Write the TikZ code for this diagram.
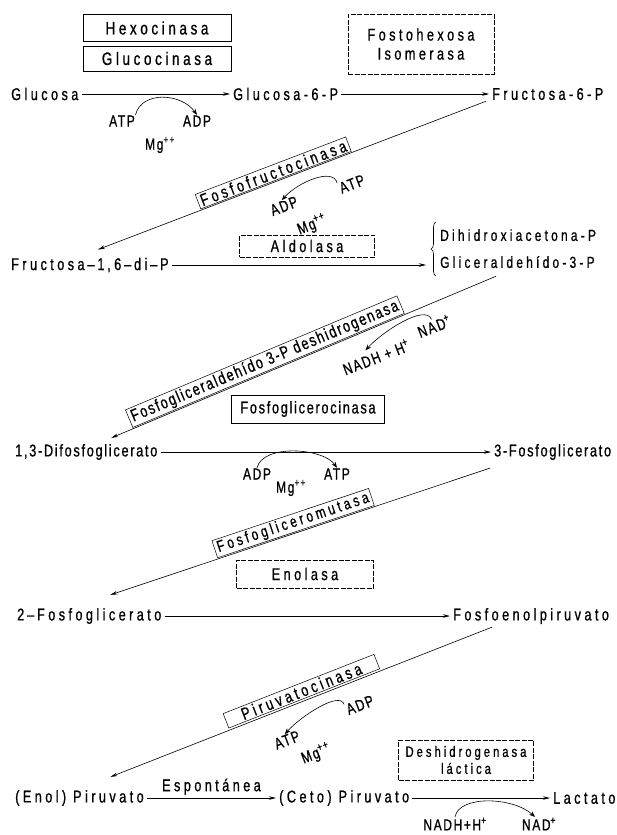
\documentclass[tikz,border=0pt]{standalone}
\usepackage{fontspec}
\setmainfont{Liberation Sans}[FakeStretch=0.75, LetterSpace=20, FakeBold=0.8]
\newfontfamily\apretada{Liberation Sans}[FakeStretch=0.75, LetterSpace=10, FakeBold=0.8]
\usetikzlibrary{arrows.meta,positioning,decorations.pathreplacing}

\newcommand{\letragrande}{\fontsize{17}{19}\selectfont}
\newcommand{\letramedia}{\fontsize{16}{18}\selectfont}
\newcommand{\letrachica}{\fontsize{15}{17}\selectfont}

\tikzset{
  met/.style={inner xsep=3pt, inner ysep=1pt, font=\letragrande},
  cof/.style={inner sep=0.5pt, font=\letramedia\apretada},
  enz/.style={draw, line width=0.5pt, inner xsep=3pt, inner ysep=1.5pt, font=\letragrande},
  enzt/.style={enz, line width=0.4pt, dash pattern=on 5pt off 1.5pt},
  rxn/.style={-{Stealth[length=7pt,width=3.5pt]}, line width=0.6pt},
  cyc/.style={-{Stealth[length=6pt,width=4.5pt]}, line width=0.6pt},
  llave/.style={decorate, decoration={brace, amplitude=5pt}, line width=0.6pt},
}

\begin{document}
\begin{tikzpicture}[x=1pt, y=-1pt]
    \useasboundingbox (0,0) rectangle (616,835);

    % Hexocinasa y fosfohexosa isomerasa
    \node[enz, minimum width=148pt, minimum height=27pt, font=\fontsize{18}{20}\selectfont] (hexo) at (157,28) {Hexocinasa};
    \node[enz, minimum width=148pt, minimum height=25pt, font=\fontsize{18}{20}\selectfont, below=4pt of hexo] (gluco) {Glucocinasa};
    \node[enzt, minimum width=146pt, minimum height=60pt, align=center, font=\letragrande] (fphi) at (421,44) {Fostohexosa\\Isomerasa};

    \node[met, anchor=west] (glu) at (8,94) {Glucosa};
    \node[met, anchor=west] (g6p) at (230,94) {Glucosa-6-P};
    \node[met, anchor=west] (f6p) at (489,94) {Fructosa-6-P};
    \draw[rxn] (glu) -- (g6p);
    \draw[rxn] (g6p) -- (f6p);

    \node[cof] (atp1) at (122,121) {ATP};
    \node[cof] (adp1) at (197,121) {ADP};
    \node[cof] (mg1) at (160,145) {Mg\textsuperscript{++}};
    \draw[cyc] (atp1.north east) .. controls +(6,-24) and +(-16,-22) .. (adp1.north);

    % Fosfofructocinasa
    \node[met, anchor=west] (f16p) at (8,265) {Fructosa\,–\,1\,,6\,–\,di\,–\,P};
    \draw[rxn] ([xshift=-3pt]f6p.south west) -- node[enz, sloped, above=1pt, pos=0.54] (pfk) {Fosfofructocinasa} ([xshift=8pt,yshift=7pt]f16p.north);
    \node[cof, rotate=21] (adp2) at (284,206) {ADP};
    \node[cof, rotate=21] (mg2) at (312,225) {Mg\textsuperscript{++}};
    \node[cof, rotate=21] (atp2) at (352,184) {ATP};
    \draw[cyc] (atp2.north west) .. controls +(-4,-16) and +(16,-18) .. (adp2.north);

    % Aldolasa
    \node[enzt, minimum width=135pt, minimum height=22pt] (ald) at (307,246) {Aldolasa};
    \node[anchor=west, inner sep=0pt, font=\letramedia] (tri) at (440,249) {\renewcommand\arraystretch{1.5}\begin{tabular}{@{}l@{}}Dihidroxiacetona-P\\Gliceraldehído-3-P\end{tabular}};
    \draw[llave] ([xshift=-4pt]tri.south west) -- ([xshift=-4pt]tri.north west);
    \draw[rxn] (f16p) -- ([xshift=-14pt]f16p -| tri.west);

    % Gliceraldehido 3-P deshidrogenasa
    \node[met, anchor=west] (d13) at (12,452) {\apretada 1,3-Difosfoglicerato};
    \draw[rxn] ([xshift=-22pt]tri.south) -- node[enz, sloped, above=1pt, pos=0.59, font=\letragrande\apretada] (gapdh) {Fosfogliceraldehído 3-P deshidrogenasa} ([xshift=25pt,yshift=5pt]d13.north);
    \node[cof, rotate=21] (nadh1) at (376,357) {NADH + H\textsuperscript{+}};
    \node[cof, rotate=21] (nad1) at (434,326) {NAD\textsuperscript{+}};
    \draw[cyc] (nad1.north) .. controls +(-6,-16) and +(16,-18) .. ([xshift=-8pt]nadh1.north);

    % Fosfoglicerocinasa
    \node[enz, minimum width=153pt, minimum height=28pt, font=\letragrande\apretada] (pgk) at (308,409) {Fosfoglicerocinasa};
    \node[met, anchor=west] (p3g) at (491,452) {\apretada 3-Fosfoglicerato};
    \draw[rxn] (d13) -- (p3g);
    \node[cof] (adp3) at (257,474) {ADP};
    \node[cof] (mg3) at (291,488) {Mg\textsuperscript{++}};
    \node[cof] (atp3) at (337,474) {ATP};
    \draw[cyc] (adp3.north) .. controls +(6,-24) and +(-14,-20) .. (atp3.north);

    % Fosfogliceromutasa
    \node[met, anchor=west] (p2g) at (14,616) {2\,–\,Fosfoglicerato};
    \draw[rxn] ([xshift=-1pt,yshift=-7pt]p3g.south west) -- node[enz, sloped, above=1pt, pos=0.51, font=\letramedia] (pgm) {Fosfogliceromutasa} ([xshift=21pt,yshift=12pt]p2g.north);

    % Enolasa
    \node[enzt, minimum width=137pt, minimum height=28pt] (eno) at (305,574) {Enolasa};
    \node[met, anchor=west] (pep) at (450,616) {Fosfoenolpiruvato};
    \draw[rxn] (p2g) -- (pep);

    % Piruvatocinasa
    \node[met, anchor=west] (enol) at (12,798) {(Enol) Piruvato};
    \draw[rxn] ([xshift=42pt,yshift=-2pt]pep.south west) -- node[enz, sloped, above=2pt, pos=0.49, minimum width=162pt] (pk) {Piruvatocinasa} ([xshift=31pt,yshift=12pt]enol.north);
    \node[cof, rotate=21] (atp4) at (287,740) {ATP};
    \node[cof, rotate=21] (mg4) at (316,754) {Mg\textsuperscript{++}};
    \node[cof, rotate=21] (adp4) at (360,705) {ADP};
    \draw[cyc] (adp4.north west) .. controls +(-4,-14) and +(16,-18) .. (atp4.north);

    % Deshidrogenasa lactica
    \node[met, anchor=west] (ceto) at (276,798) {(Ceto) Piruvato};
    \node[met, anchor=west] (lac) at (550,798) {Lactato};
    \draw[rxn] (enol) -- node[met, above=2pt] (esp) {Espontánea} (ceto);
    \draw[rxn] (ceto) -- (lac);
    \node[enzt, align=center, minimum width=135pt, minimum height=40pt, font=\letrachica] (ldh) at (466,760) {Deshidrogenasa\\láctica};
    \node[cof] (nadh2) at (455,824) {NADH+H\textsuperscript{+}};
    \node[cof] (nad2) at (539,824) {NAD\textsuperscript{+}};
    \draw[cyc] (nadh2.north) .. controls +(4,-22) and +(-22,-20) .. ([xshift=-4pt]nad2.north);
\end{tikzpicture}
\end{document}
